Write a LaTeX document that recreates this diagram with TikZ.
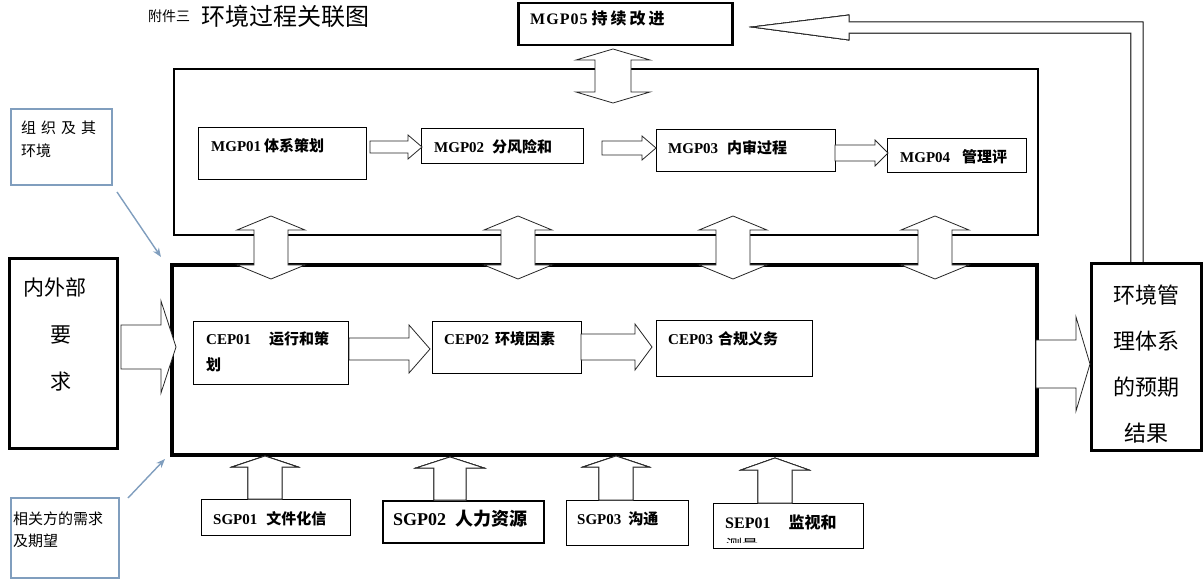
\documentclass[tikz,border=0pt]{standalone}
\usepackage{fontspec}
\setmainfont{Liberation Serif}
\newfontfamily\cjk{Noto Sans CJK SC}
\usetikzlibrary{positioning,calc,arrows.meta}
\definecolor{linkblue}{RGB}{128,158,190}
\newcommand{\zh}[1]{{\cjk #1}}
% block arrows: right, up, up-down
\newcommand{\rarr}[6]{\draw[blk] (#1,#3-#4) -- (#2-#6,#3-#4) -- (#2-#6,#3-#5) -- (#2,#3) -- (#2-#6,#3+#5) -- (#2-#6,#3+#4) -- (#1,#3+#4) -- cycle;}
\newcommand{\uarr}[6]{\draw[blk] (#1,#2) -- (#1+#5,#2+#6) -- (#1+#4,#2+#6) -- (#1+#4,#3) -- (#1-#4,#3) -- (#1-#4,#2+#6) -- (#1-#5,#2+#6) -- cycle;}
\newcommand{\vdarr}[6]{\draw[blk] (#1,#2) -- (#1+#5,#2+#6) -- (#1+#4,#2+#6) -- (#1+#4,#3-#6) -- (#1+#5,#3-#6) -- (#1,#3) -- (#1-#5,#3-#6) -- (#1-#4,#3-#6) -- (#1-#4,#2+#6) -- (#1-#5,#2+#6) -- cycle;}
\tikzset{
  box/.style={draw, line width=1.2pt, inner sep=0pt, anchor=north west},
  lbl/.style={anchor=west, inner sep=0pt, font=\fontsize{15}{18}\selectfont\bfseries},
  blk/.style={draw=black!85, fill=white, line width=0.8pt},
  link/.style={draw=linkblue, line width=1.4pt, -{Stealth[length=9pt,width=7pt]}},
}
\begin{document}
\begin{tikzpicture}[x=1pt,y=-1pt]
\useasboundingbox (0,0) rectangle (1203,580);
% title
\node[anchor=west, inner sep=0pt, font=\cjk\fontsize{14}{14}\selectfont] (ttlsmall) at (148,16) {附件三};
\node[inner sep=0pt, font=\cjk\fontsize{24}{24}\selectfont, right=11pt of ttlsmall] (ttl) {环境过程关联图};
% boxes
\node[box, line width=2.5pt, minimum width=214, minimum height=42] (mgp05) at (517,2) {};
\node[box, line width=2pt, minimum width=864, minimum height=166] (mgp) at (173,68) {};
\node[box, line width=4pt, minimum width=865, minimum height=190] (cep) at (170,263) {};
\node[box, line width=3pt, minimum width=108, minimum height=190] (req) at (8,257) {};
\node[box, line width=3pt, minimum width=110, minimum height=187] (res) at (1090,262) {};
\node[box, draw=linkblue, line width=2pt, minimum width=101, minimum height=76] (org) at (10,108) {};
\node[box, draw=linkblue, line width=2pt, minimum width=108, minimum height=80] (party) at (10,497) {};
\node[box, minimum width=168, minimum height=52] (mgp01) at (198,127) {};
\node[box, minimum width=162, minimum height=35] (mgp02) at (421,128) {};
\node[box, minimum width=179, minimum height=42] (mgp03) at (656,129) {};
\node[box, minimum width=139, minimum height=34] (mgp04) at (887,138) {};
\node[box, minimum width=155, minimum height=63] (cep01) at (193,321) {};
\node[box, minimum width=149, minimum height=52] (cep02) at (432,321) {};
\node[box, minimum width=156, minimum height=56] (cep03) at (656,320) {};
\node[box, minimum width=149, minimum height=36] (sgp01) at (201,499) {};
\node[box, line width=2pt, minimum width=161, minimum height=42] (sgp02) at (382,500) {};
\node[box, minimum width=122, minimum height=45] (sgp03) at (566,500) {};
\node[box, minimum width=150, minimum height=45] (sep01) at (713,503) {};
% labels
\node[lbl, font=\fontsize{16}{18}\selectfont\bfseries] (mgp05t) at ([shift={(13,16)}]mgp05.north west) {M\hspace{1pt}G\hspace{1pt}P\hspace{1pt}0\hspace{1pt}5 \zh{持\hspace{3pt}续\hspace{3pt}改\hspace{3pt}进}};
\node[lbl] (mgp01t) at ([shift={(13,19)}]mgp01.north west) {MGP01\hspace{3pt}\zh{体系策划}};
\node[lbl] (mgp02t) at ([shift={(13,19)}]mgp02.north west) {MGP02\hspace{8pt}\zh{分风险和}};
\node[lbl] (mgp03t) at ([shift={(12,19)}]mgp03.north west) {MGP03\hspace{9pt}\zh{内审过程}};
\node[lbl] (mgp04t) at ([shift={(13,19)}]mgp04.north west) {MGP04\hspace{12pt}\zh{管理评}};
\node[lbl, align=left, font=\fontsize{15}{26}\selectfont\bfseries] (cep01t) at ([shift={(13,31)}]cep01.north west) {CEP01\hspace{18pt}\zh{运行和策}\\\zh{划}};
\node[lbl] (cep02t) at ([shift={(12,18)}]cep02.north west) {CEP02\hspace{6pt}\zh{环境因素}};
\node[lbl] (cep03t) at ([shift={(12,19)}]cep03.north west) {CEP03\hspace{5pt}\zh{合规义务}};
\node[lbl] (sgp01t) at ([shift={(12,20)}]sgp01.north west) {SGP01\hspace{9pt}\zh{文件化信}};
\node[lbl, font=\fontsize{18}{20}\selectfont\bfseries] (sgp02t) at ([shift={(11,19)}]sgp02.north west) {SGP02\hspace{9pt}\zh{人力资源}};
\node[lbl] (sgp03t) at ([shift={(11,19)}]sgp03.north west) {SGP03\hspace{7pt}\zh{沟通}};
\node[lbl, font=\fontsize{16}{18}\selectfont\bfseries] (sep01t) at ([shift={(12,19)}]sep01.north west) {SEP01\hspace{18pt}\zh{监视和}};
\begin{scope}
\clip (713,530) rectangle (863,542);
\node[lbl, font=\cjk\fontsize{16}{16}\selectfont] (sep01m) at ([shift={(13,42)}]sep01.north west) {测量};
\end{scope}
\node[anchor=west, inner sep=0pt, font=\cjk\fontsize{21}{21}\selectfont] (reqt1) at ([shift={(15,30)}]req.north west) {内外部};
\node[inner sep=0pt, font=\cjk\fontsize{21}{21}\selectfont] (reqt2) at ([shift={(53,78)}]req.north west) {要};
\node[inner sep=0pt, font=\cjk\fontsize{21}{21}\selectfont] (reqt3) at ([shift={(53,125)}]req.north west) {求};
\node[inner sep=0pt, align=center, font=\cjk\fontsize{22}{46}\selectfont] (rest) at ([shift={(0,7)}]res.center) {环境管\\理体系\\的预期\\结果};
\node[anchor=west, inner sep=0pt, align=left, font=\cjk\fontsize{15}{23}\selectfont] (orgt) at ([shift={(11,31)}]org.north west) {组\hspace{5pt}织\hspace{5pt}及\hspace{5pt}其\\环境};
\node[anchor=west, inner sep=0pt, align=left, font=\cjk\fontsize{15}{22}\selectfont] (partyt) at ([shift={(3,33)}]party.north west) {相关方的需求\\及期望};
% block arrows
\rarr{370}{422}{147}{6}{12}{14}
\rarr{602}{656}{148}{7}{12}{14}
\rarr{835}{888}{153}{8}{13}{13}
\rarr{349}{430}{349}{11}{24}{21}
\rarr{581}{652}{347}{13}{23}{17}
\rarr{121}{176}{347}{22}{46}{15}
\rarr{1036}{1090}{364}{24}{47}{14}
\vdarr{613}{49}{103}{18}{37}{11}
\foreach \x in {271,518,733,935}
  \vdarr{\x}{216}{279}{17}{34}{14}
\uarr{265}{456}{499}{17}{33}{11}
\uarr{450}{457}{500}{16}{34}{11}
\uarr{616}{456}{500}{17}{33}{11}
\uarr{775}{458}{503}{17}{34}{12}
% feedback to MGP05
\draw[blk] (1131,262) -- (1131,33) -- (849,33) -- (849,40) -- (752,27) -- (849,15) -- (849,22) -- (1143,22) -- (1143,262);
% context links
\draw[link] ([shift={(4,6)}]org.south east) -- ([shift={(-9,-6)}]cep.north west);
\draw[link] ([shift={(8,1)}]party.north east) -- ([shift={(-5,2)}]cep.south west);
\end{tikzpicture}
\end{document}
